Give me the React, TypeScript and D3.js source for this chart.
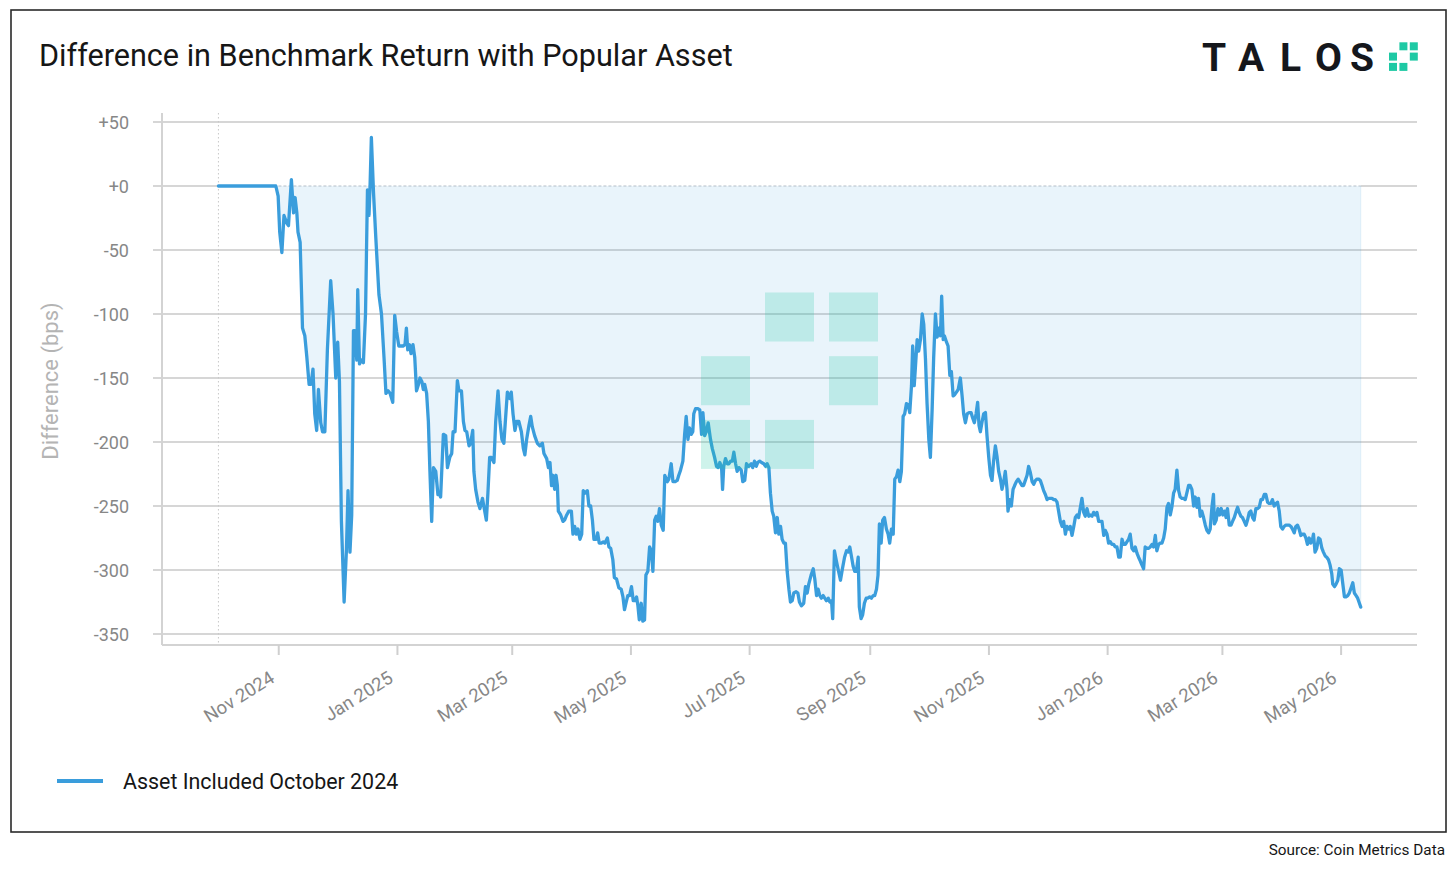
import React from "react";
import * as d3 from "d3";

const TITLE = "Difference in Benchmark Return with Popular Asset";
const SERIES_NAME = "Asset Included October 2024";
const Y_TITLE = "Difference (bps)";
const SOURCE = "Source: Coin Metrics Data";
const LOGO_LETTERS = ["T", "A", "L", "O", "S"];

const START_DATE = "2024-10-01"; // day 0 of the series
const X_DOMAIN = ["2024-09-02", "2026-06-09"];
const X_TICKS = [
  "2024-11-01", "2025-01-01", "2025-03-01", "2025-05-01", "2025-07-01",
  "2025-09-01", "2025-11-01", "2026-01-01", "2026-03-01", "2026-05-01",
];
const Y_TICKS = [50, 0, -50, -100, -150, -200, -250, -300, -350];

// [days since START_DATE, difference in bps]
const SERIES: [number, number][] = [
  [0,0],[29.5,0],[30.7,-8],[31.5,-36],[32.6,-52],[33.7,-23],[35.1,-29],[36.0,-31],[37.5,5],[38.6,-21],[39.4,-9],[40.3,-21],[40.9,-36],[42.0,-44],[43.2,-111],[44.4,-117],[45.4,-133],[46.6,-155],[47.6,-155],[48.6,-143],[49.5,-178],[50.5,-191],[51.4,-159],[52.6,-185],[53.5,-192],[54.7,-192],[56.0,-128],[57.7,-74],[58.9,-100],[60.3,-150],[61.3,-122],[62.2,-153],[63.2,-262],[64.6,-325],[65.8,-284],[66.6,-238],[67.6,-286],[68.5,-257],[69.4,-113],[70.2,-113],[71.1,-136],[71.6,-81],[72.5,-139],[73.5,-136],[74.5,-138],[75.6,-100],[76.6,-3],[77.4,-23],[77.9,-2],[78.6,38],[79.7,-5],[80.8,-38],[82.5,-85],[83.8,-100],[85.1,-134],[86.1,-162],[87.2,-160],[88.2,-162],[89.6,-169],[90.6,-101],[91.6,-114],[92.7,-125],[93.7,-125],[94.9,-125],[95.9,-124],[96.6,-111],[97.3,-128],[98.2,-124],[99.0,-131],[100.0,-124],[100.9,-134],[101.8,-160],[102.8,-155],[103.6,-150],[104.6,-153],[105.3,-159],[106.0,-155],[107.0,-162],[107.9,-184],[108.7,-223],[109.6,-262],[110.5,-220],[111.7,-223],[112.8,-241],[113.7,-241],
  [114.2,-243],[115.6,-194],[116.8,-195],[117.7,-220],[118.9,-212],[119.9,-209],[120.6,-192],[121.6,-192],[122.8,-152],[123.6,-160],[124.9,-160],[125.9,-184],[126.7,-191],[127.6,-192],[128.8,-203],[129.6,-201],[130.7,-191],[131.3,-223],[132.2,-237],[133.4,-247],[134.4,-252],[135.7,-244],[136.5,-251],[137.7,-261],[138.5,-240],[139.4,-212],[140.3,-212],[141.6,-216],[142.5,-184],[143.7,-160],[144.7,-184],[145.7,-198],[146.7,-201],[147.6,-181],[148.5,-161],[149.7,-166],[150.5,-161],[151.4,-178],[152.4,-191],[153.3,-184],[154.4,-184],[155.7,-192],[156.7,-205],[157.5,-210],[158.4,-198],[159.6,-187],[160.5,-180],[161.3,-188],[162.5,-195],[163.9,-201],[165.2,-203],[166.5,-201],[167.3,-209],[168.7,-213],[169.6,-220],[170.4,-216],[171.2,-234],[171.9,-226],[172.8,-237],[173.5,-226],[174.2,-234],[174.7,-254],[175.9,-257],[177.1,-262],[177.9,-261],[179.0,-257],[180.1,-254],[181.4,-254],[182.2,-272],[183.1,-266],[183.9,-272],[184.8,-268],[185.8,-276],[186.7,-272],[187.5,-238],[188.4,-240],[189.6,-238],[190.4,-250],[191.3,-250],[192.2,-261],[193.0,-276],[194.2,-276],[194.9,-271],[195.7,-279],[196.8,-279],[197.8,-278],[198.6,-279],[199.9,-275],[200.7,-282],[201.6,-283],[202.7,-292],[203.5,-306],[204.6,-307],[205.8,-314],[207.0,-315],[207.9,-321],[208.7,-331],[209.6,-325],[210.4,-320],[211.3,-320],[212.3,-313],[213.2,-324],[214.0,-324],[214.9,-321],[215.6,-328],[216.3,-339],[217.3,-326],[218.1,-340],[219.0,-339],[219.7,-304],[220.7,-301],[221.6,-282],[222.5,-285],[223.3,-301],[224.2,-261],[225.0,-258],[225.8,-262],[226.7,-252],[227.6,-265],[228.6,-269],[229.4,-226],[230.7,-231],[231.5,-229],[232.7,-217],[233.6,-231],[234.6,-231],[235.8,-230],[236.6,-226],[237.5,-222],[238.7,-215],[239.6,-194],[240.4,-180],[241.3,-198],[242.1,-189],[243.0,-194],[243.8,-192],[244.3,-178],[245.2,-174],[246.4,-174],[247.4,-175],[248.3,-194],[249.0,-177],[249.9,-195],[250.7,-192],[251.7,-185],[252.9,-198],[253.8,-205],[255.0,-212],[256.0,-219],[256.9,-220],[257.7,-216],[258.6,-220],[259.1,-237],[259.7,-219],[260.6,-213],[261.5,-217],[262.3,-217],[263.2,-215],
  [264.1,-215],[264.9,-208],[265.8,-217],[266.6,-223],[267.5,-220],[268.7,-222],[269.5,-231],[270.5,-230],[271.4,-217],[272.6,-219],[273.8,-217],[274.6,-220],[275.5,-215],[276.4,-219],[277.2,-216],[278.2,-215],[279.1,-216],[280.3,-217],[281.2,-219],[282.0,-217],[282.9,-220],[283.7,-240],[284.6,-254],[285.4,-258],[286.3,-271],[287.2,-259],[288.0,-272],[288.9,-266],[289.7,-276],[290.6,-279],[291.4,-279],[292.3,-301],[293.2,-315],[294.0,-325],[294.9,-324],[295.7,-318],[296.9,-317],[297.8,-318],[298.6,-325],[299.6,-328],[300.8,-326],[301.7,-313],[302.6,-318],[303.4,-311],[304.6,-304],[305.7,-299],[306.5,-307],[307.4,-320],[308.2,-315],[309.1,-320],[309.9,-322],[310.8,-320],[311.6,-322],[312.5,-324],[313.4,-322],[314.2,-325],[315.1,-324],[315.7,-338],[316.6,-285],[317.6,-293],[318.7,-301],[319.7,-308],[320.7,-299],[321.8,-290],[322.8,-285],[323.6,-286],[324.5,-282],[325.3,-289],[326.2,-297],[327.0,-301],[327.9,-301],[328.8,-290],[329.4,-329],[330.3,-338],[331.1,-335],[332.0,-326],[332.9,-322],[333.7,-322],[334.7,-321],[335.6,-322],[336.5,-320],[337.3,-320],[338.2,-315],[339.0,-304],[339.7,-264],[340.6,-279],[341.4,-261],[342.3,-259],[343.3,-268],[344.2,-272],[345.0,-279],[345.9,-268],[346.8,-272],[347.6,-229],[348.5,-227],[349.3,-222],[350.2,-231],[351.0,-223],[351.9,-180],[352.7,-178],[353.6,-170],[354.5,-171],[355.3,-177],[356.2,-156],[356.8,-125],[357.6,-156],[358.2,-142],[359.1,-120],[359.9,-129],[360.8,-120],[361.7,-100],[362.5,-108],[363.4,-136],[364.2,-170],[365.1,-198],[365.9,-212],[366.8,-175],[367.6,-134],[368.5,-100],[369.4,-118],[370.2,-111],[371.1,-117],[371.7,-86],[372.5,-120],[373.1,-117],[374.2,-122],[375.0,-125],[375.9,-148],[376.7,-145],[377.6,-164],[378.4,-163],[379.3,-161],[380.2,-159],[381.3,-150],[382.2,-164],[383.0,-178],[383.9,-185],[384.8,-178],[385.8,-177],[386.8,-177],[387.6,-181],[388.5,-185],[389.4,-178],[390.2,-169],[390.9,-187],[391.6,-192],[392.5,-184],[393.3,-178],[394.2,-177],[395.0,-195],[395.9,-212],[396.8,-226],[397.6,-230],[398.4,-215],[399.3,-203],[400.2,-212],[401.0,-223],[401.9,-229],[402.7,-237],[403.6,-231],[404.4,-223],[405.3,-237],[405.8,-254],[406.6,-245],[407.5,-250],[408.4,-237],[409.2,-234],[410.1,-231],[411.0,-229],[411.8,-231],
  [413.0,-234],[413.8,-234],[414.7,-230],[415.6,-226],[416.4,-219],[417.3,-224],[418.2,-231],[419.0,-233],[419.9,-230],[420.7,-229],[421.6,-229],[422.4,-230],[423.3,-234],[424.1,-238],[425.0,-241],[425.9,-245],[426.7,-244],[427.6,-244],[428.4,-244],[429.3,-245],[430.1,-245],[431.0,-247],[431.8,-254],[432.7,-262],[433.6,-266],[434.4,-262],[435.3,-272],[436.1,-266],[437.0,-268],[437.8,-266],[438.7,-273],[439.6,-266],[440.4,-259],[441.3,-257],[442.1,-259],[443.0,-251],[443.8,-244],[444.7,-255],[445.5,-258],[446.4,-252],[447.3,-258],[448.1,-257],[449.0,-258],[449.8,-255],[450.7,-257],[451.5,-255],[452.4,-262],[453.2,-262],[454.1,-262],[455.0,-273],[455.8,-269],[456.7,-272],[457.5,-279],[458.4,-278],[459.2,-280],[460.1,-280],[460.9,-282],[461.8,-282],[462.7,-290],[463.5,-290],[464.4,-276],[465.2,-280],[466.1,-280],[466.9,-278],[467.8,-276],[468.6,-272],[469.5,-283],[470.4,-285],[471.2,-282],[472.1,-287],[472.9,-290],[473.8,-293],[474.6,-296],[475.5,-299],[476.3,-282],[477.2,-283],[478.1,-283],[478.9,-282],[479.8,-280],[480.6,-282],[481.5,-273],[482.3,-285],[483.2,-280],[484.0,-279],[484.9,-279],[485.8,-275],[486.6,-268],[487.5,-251],[488.3,-248],[489.2,-257],[490.0,-251],[490.9,-240],[491.7,-237],[492.6,-222],[493.5,-238],[494.3,-243],[495.2,-244],[496.0,-244],[496.9,-245],[497.7,-240],[498.6,-234],[499.4,-234],[500.3,-237],[501.2,-250],[502.0,-243],[502.9,-251],[503.7,-244],[504.6,-258],[505.4,-254],[506.3,-259],[507.2,-265],[508.0,-269],[508.9,-271],[509.7,-268],[510.6,-251],[511.4,-241],[511.9,-264],[512.8,-261],[513.7,-252],[514.5,-257],[515.4,-252],[516.2,-257],[517.1,-254],[517.9,-259],[518.6,-252],[519.5,-265],[520.4,-265],[521.2,-262],[522.1,-259],[522.9,-255],[523.8,-251],[524.6,-255],[525.5,-258],[526.3,-259],[527.2,-262],[528.1,-265],[528.9,-261],[529.8,-255],[530.6,-254],[531.5,-259],[532.3,-261],[533.2,-252],[534.0,-252],[534.9,-251],[535.8,-245],[536.6,-245],[537.5,-241],[538.3,-241],[539.2,-247],[540.0,-248],[540.9,-248],[541.7,-245],[542.6,-250],[543.5,-248],[544.3,-247],[545.2,-254],[546.0,-266],[546.9,-268],[547.7,-266],[548.6,-265],[549.4,-265],[550.3,-265],[551.2,-266],[552.0,-268],[552.9,-271],[553.7,-266],[554.6,-265],[555.4,-268],[556.3,-273],[557.1,-272],[558.0,-272],[558.9,-275],[559.7,-280],[560.6,-275],[561.4,-279],[562.3,-276],[562.8,-272],[563.6,-286],[564.5,-283],[565.4,-275],[566.2,-276],[567.1,-283],[567.9,-286],[568.8,-289],[569.6,-290],[570.5,-292],[571.3,-296],[572.2,-303],[572.7,-311],[573.6,-313],[574.4,-311],[575.3,-308],[576.1,-299],[577.0,-300],[577.8,-310],[578.7,-321],[579.5,-321],[580.4,-320],[581.2,-318],[582.1,-314],[583.0,-310],[583.8,-318],[584.7,-320],[585.5,-322],[586.4,-326],[587.1,-329],
];

// watermark / logo pattern (row, col) of a 3x3 grid
const MARK_CELLS: [number, number][] = [[0, 1], [0, 2], [1, 0], [1, 2], [2, 0], [2, 1]];

const W = 1456;
const H = 870;
const PLOT = { left: 162, right: 1417, top: 113, bottom: 645, gridLeft: 153 };
const LINE_COLOR = "#3a9ddc";
const FONT = "Roboto, 'Noto Sans', sans-serif";

const parse = d3.utcParse("%Y-%m-%d");
const fmtTick = d3.utcFormat("%b %Y");

export default function App() {
  const start = parse(START_DATE)!;
  const data = SERIES.map(([d, v]) => ({ date: new Date(+start + d * 864e5), v }));

  const x = d3.scaleUtc()
    .domain([parse(X_DOMAIN[0])!, parse(X_DOMAIN[1])!])
    .range([PLOT.left, PLOT.right]);
  const y = d3.scaleLinear().domain([-350, 50]).range([634, 122]);

  const line = d3.line<{ date: Date; v: number }>()
    .x((d) => x(d.date))
    .y((d) => y(d.v));
  const area = d3.area<{ date: Date; v: number }>()
    .x((d) => x(d.date))
    .y0(y(0))
    .y1((d) => y(d.v));

  const x0 = x(data[0].date);
  const x1 = x(data[data.length - 1].date);

  return (
    <div>
      <style>{"body{margin:0;background:#fff}"}</style>
      <svg width={W} height={H} style={{ display: "block", fontFamily: FONT }}>
        <rect x={0} y={0} width={W} height={H} fill="#fff" />
        <rect x={11} y={10} width={1435} height={822} fill="#fff" stroke="#2a2a2a" strokeWidth={1.6} />

        {/* title */}
        <text x={39} y={65.5} fontSize={30.6} fill="#161616">{TITLE}</text>

        {/* logo */}
        <text y={71} fontSize={39} fontWeight={700} fill="#15171c" fontFamily="Roboto, 'DejaVu Sans', sans-serif">
          {LOGO_LETTERS.map((l, i) => (
            <tspan key={i} x={[1202, 1238, 1280, 1315, 1350][i]}>{l}</tspan>
          ))}
        </text>
        {MARK_CELLS.map(([r, c], i) => (
          <rect key={"lg" + i} x={1389 + c * 10.4} y={42.3 + r * 10.3} width={8} height={8} fill="#1ec9a4" />
        ))}

        {/* grid */}
        {Y_TICKS.map((t) =>
          t === 0 ? (
            <g key={t}>
              <line x1={PLOT.gridLeft} x2={x0} y1={y(t)} y2={y(t)} stroke="#d6d6d6" strokeWidth={2} />
              <line x1={x1} x2={PLOT.right} y1={y(t)} y2={y(t)} stroke="#d6d6d6" strokeWidth={2} />
            </g>
          ) : (
            <line key={t} x1={PLOT.gridLeft} x2={PLOT.right} y1={y(t)} y2={y(t)} stroke="#d6d6d6" strokeWidth={2} />
          )
        )}
        {Y_TICKS.map((t) => (
          <text key={"yl" + t} x={129} y={y(t)} dy="0.38em" textAnchor="end" fontSize={18} fill="#878787">
            {t >= 0 ? "+" + t : String(t)}
          </text>
        ))}

        {/* axes */}
        <line x1={PLOT.left} x2={PLOT.left} y1={PLOT.top} y2={PLOT.bottom} stroke="#d3d3d3" strokeWidth={2} />
        <line x1={PLOT.left} x2={PLOT.right} y1={PLOT.bottom} y2={PLOT.bottom} stroke="#d3d3d3" strokeWidth={2} />
        {X_TICKS.map((t) => {
          const xx = x(parse(t)!);
          return (
            <g key={t}>
              <line x1={xx} x2={xx} y1={PLOT.bottom} y2={PLOT.bottom + 10} stroke="#cfcfcf" strokeWidth={2} />
              <text transform={`translate(${xx - 10},${PLOT.bottom + 25}) rotate(-32)`} dy="0.71em"
                textAnchor="end" fontSize={18.5} fill="#878787">
                {fmtTick(parse(t)!)}
              </text>
            </g>
          );
        })}

        {/* dotted inclusion line */}
        <line x1={x0} x2={x0} y1={PLOT.top} y2={PLOT.bottom} stroke="#c8c8c8" strokeWidth={1} strokeDasharray="1.5,2.5" />

        {/* y title */}
        <text transform={`translate(58,381) rotate(-90)`} textAnchor="middle" fontSize={22} fill="#b4b4b4">{Y_TITLE}</text>

        {/* area + line */}
        <path d={area(data)!} fill="#3498db" fillOpacity={0.11} />
        <line x1={x0} x2={x1} y1={y(0)} y2={y(0)} stroke="#b4bec8" strokeWidth={1} strokeDasharray="3,2" />
        <line x1={x1} x2={x1} y1={y(0)} y2={y(data[data.length - 1].v)} stroke="#3498db" strokeOpacity={0.1} strokeWidth={1} />
        <path d={line(data)!} fill="none" stroke={LINE_COLOR} strokeWidth={3.3} strokeLinejoin="round" strokeLinecap="round" />

        {/* watermark */}
        {MARK_CELLS.map(([r, c], i) => (
          <rect key={"wm" + i} x={701 + c * 64} y={292.5 + r * 63.7} width={49} height={49} fill="#1ec9a4" fillOpacity={0.22} />
        ))}

        {/* legend */}
        <line x1={57} x2={103} y1={781} y2={781} stroke={LINE_COLOR} strokeWidth={4} />
        <text x={123} y={789} fontSize={21.4} fill="#161616">{SERIES_NAME}</text>

        {/* source */}
        <text x={1445} y={855} textAnchor="end" fontSize={15.3} fill="#161616">{SOURCE}</text>
      </svg>
    </div>
  );
}
